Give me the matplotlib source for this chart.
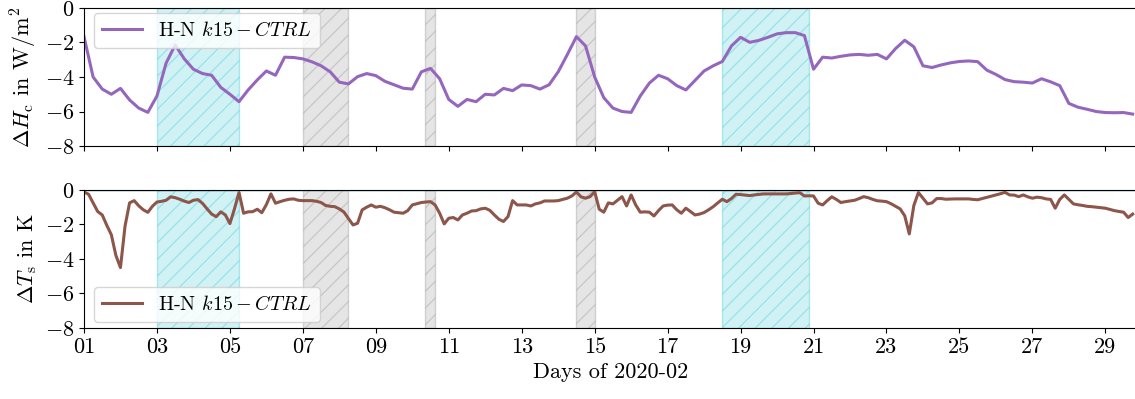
# plot
import numpy as np
import matplotlib
matplotlib.use("Agg")
from matplotlib import pyplot as plt
import matplotlib.dates as mdates
from matplotlib.colors import to_rgba

plt.rcParams["font.family"] = "serif"
plt.rcParams["font.serif"] = ["cmr10"]
plt.rcParams["mathtext.fontset"] = "cm"
plt.rcParams["axes.formatter.use_mathtext"] = True
plt.rcParams["font.size"] = 16
plt.rcParams["hatch.linewidth"] = 0.9

start = np.datetime64("2020-02-01T00:00")

# Delta H_c, 6-hourly, W/m^2
dH = [-1.66, -4.0, -4.7, -5.0, -4.66, -5.33, -5.8, -6.05,
      -5.1, -3.2, -2.14, -2.95, -3.55, -3.8, -3.9, -4.6,
      -5.0, -5.43, -4.75, -4.17, -3.65, -3.9, -2.85, -2.87,
      -2.95, -3.12, -3.35, -3.7, -4.3, -4.4, -3.98, -3.8,
      -3.92, -4.25, -4.45, -4.65, -4.7, -3.7, -3.5, -4.1,
      -5.3, -5.7, -5.3, -5.43, -5.0, -5.04, -4.66, -4.79,
      -4.46, -4.5, -4.7, -4.45, -3.7, -2.7, -1.66, -2.2,
      -4.0, -5.2, -5.8, -6.0, -6.05, -5.1, -4.35, -3.9,
      -4.1, -4.5, -4.75, -4.2, -3.65, -3.35, -3.1, -2.2,
      -1.7, -1.99, -1.88, -1.7, -1.5, -1.43, -1.43, -1.6,
      -3.55, -2.85, -2.9, -2.8, -2.72, -2.69, -2.74, -2.69,
      -2.95, -2.35, -1.87, -2.25, -3.35, -3.45, -3.3, -3.18,
      -3.1, -3.07, -3.11, -3.6, -3.85, -4.15, -4.27, -4.3,
      -4.35, -4.1, -4.28, -4.5, -5.53, -5.75, -5.87, -6.0,
      -6.06, -6.07, -6.06, -6.15]

# Delta T_s, 3-hourly, K
dT = [-0.12, -0.25, -0.75, -1.25, -1.45, -2.05, -2.6, -3.8,
      -4.5, -2.1, -0.75, -0.62, -0.92, -1.15, -1.3, -0.95,
      -0.7, -0.66, -0.6, -0.4, -0.45, -0.54, -0.65, -0.73,
      -0.6, -0.56, -0.78, -1.1, -1.4, -1.55, -1.27, -1.45,
      -1.95, -1.1, -0.15, -1.35, -1.27, -1.26, -1.12, -1.32,
      -0.85, -0.23, -0.77, -0.68, -0.6, -0.54, -0.52, -0.6,
      -0.62, -0.62, -0.62, -0.66, -0.73, -0.9, -0.95, -0.97,
      -1.1, -1.28, -1.65, -2.03, -1.93, -1.16, -1.0, -0.87,
      -1.0, -0.95, -1.03, -1.15, -1.29, -1.32, -1.35, -1.2,
      -0.87, -0.8, -0.73, -0.7, -0.68, -0.87, -1.35, -1.97,
      -1.64, -1.6, -1.74, -1.45, -1.35, -1.22, -1.2, -1.1,
      -1.06, -1.18, -1.45, -1.7, -1.83, -1.54, -0.62, -0.87,
      -0.87, -0.87, -0.93, -0.81, -0.75, -0.64, -0.64, -0.64,
      -0.62, -0.55, -0.48, -0.35, -0.12, -0.4, -0.48, -0.39,
      -0.1, -1.12, -1.29, -0.75, -0.81, -0.6, -0.39, -0.93,
      -0.29, -0.87, -1.29, -1.27, -1.29, -1.51, -1.2, -0.93,
      -0.88, -0.87, -1.15, -1.35, -1.06, -1.25, -1.45, -1.4,
      -1.31, -1.15, -0.97, -0.75, -0.54, -0.68, -0.5, -0.25,
      -0.27, -0.3, -0.33, -0.29, -0.26, -0.23, -0.23, -0.23,
      -0.23, -0.23, -0.23, -0.21, -0.18, -0.16, -0.35, -0.34,
      -0.35, -0.77, -0.87, -0.62, -0.4, -0.55, -0.73, -0.68,
      -0.64, -0.6, -0.5, -0.39, -0.45, -0.55, -0.63, -0.65,
      -0.68, -0.8, -0.95, -1.1, -1.5, -2.55, -0.9, -0.15,
      -0.48, -0.81, -0.75, -0.5, -0.5, -0.54, -0.53, -0.52,
      -0.52, -0.52, -0.52, -0.55, -0.57, -0.5, -0.43, -0.36,
      -0.29, -0.22, -0.14, -0.29, -0.3, -0.39, -0.29, -0.4,
      -0.48, -0.42, -0.45, -0.52, -0.55, -1.06, -0.55, -0.29,
      -0.55, -0.81, -0.86, -0.9, -0.95, -0.97, -1.0, -1.03,
      -1.06, -1.13, -1.2, -1.25, -1.29, -1.6, -1.4]

t_H = start + np.arange(len(dH)) * np.timedelta64(6, "h")
t_T = start + np.arange(len(dT)) * np.timedelta64(3, "h")

cyan_spans = [("2020-02-03T00:00", "2020-02-05T06:00"),
              ("2020-02-18T12:00", "2020-02-20T21:00")]
gray_spans = [("2020-02-07T00:00", "2020-02-08T06:00"),
              ("2020-02-10T08:30", "2020-02-10T15:00"),
              ("2020-02-14T12:00", "2020-02-15T00:00")]

label = "H-N $k15 - CTRL$"

fig = plt.figure(figsize=(11.35, 3.99), dpi=100)
ax1 = fig.add_axes([0.074, 0.634, 0.928, 0.346])
ax2 = fig.add_axes([0.074, 0.178, 0.928, 0.346])

for ax in (ax1, ax2):
    for a, b in cyan_spans:
        ax.axvspan(np.datetime64(a), np.datetime64(b),
                   facecolor=to_rgba("tab:cyan", 0.2),
                   edgecolor=to_rgba("tab:cyan", 0.3), hatch="//", lw=1)
    for a, b in gray_spans:
        ax.axvspan(np.datetime64(a), np.datetime64(b),
                   facecolor=to_rgba("gray", 0.2),
                   edgecolor=to_rgba("gray", 0.3), hatch="//", lw=1)

ax2.axhline(0, color="tab:blue", lw=1, zorder=1)

ax1.plot(t_H, dH, color="tab:purple", lw=2.2, label=label)
ax2.plot(t_T, dT, color="tab:brown", lw=2.2, label=label)

for ax in (ax1, ax2):
    ax.set_ylim(-8, 0)
    ax.set_yticks([0, -2, -4, -6, -8])
    ax.set_xlim(start, np.datetime64("2020-02-29T21:00"))
    ax.xaxis.set_major_locator(mdates.DayLocator(bymonthday=range(1, 32, 2)))
    ax.xaxis.set_major_formatter(mdates.DateFormatter("%d"))

ax1.tick_params(labelbottom=False)
ax1.set_ylabel(r"$\Delta H_\mathrm{c}$ in W/m$^2$")
ax2.set_ylabel(r"$\Delta T_\mathrm{s}$ in K")
ax2.set_xlabel("Days of 2020-02")

ax1.legend(loc="upper left", fontsize=14.5, borderaxespad=0,
           bbox_to_anchor=(0.0095, 0.964))
ax2.legend(loc="lower left", fontsize=14.5, borderaxespad=0,
           bbox_to_anchor=(0.0095, 0.043))

fig.savefig("out.png", dpi=100)
